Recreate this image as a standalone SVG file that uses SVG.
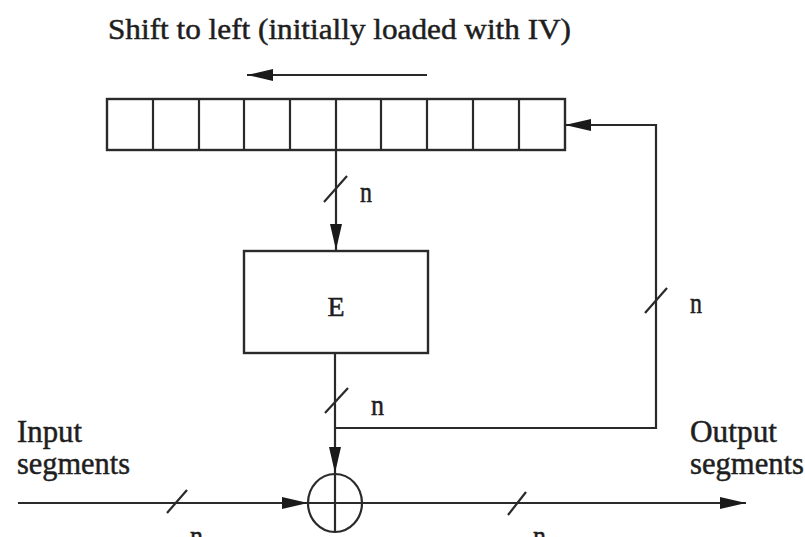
<svg xmlns="http://www.w3.org/2000/svg" width="805" height="537" viewBox="0 0 805 537">
<defs>
<marker id="ah" viewBox="0 0 26 12" refX="26" refY="6" markerWidth="26" markerHeight="12" markerUnits="userSpaceOnUse" orient="auto">
<path d="M0,0 L26,6 L0,12 z" fill="#1a1a1a"/>
</marker>
</defs>
<style>
.ln{stroke:#2a2a2a;stroke-width:2.2;fill:none}
.bx{stroke:#2a2a2a;stroke-width:2.4;fill:#ffffff}
.t{font-family:"Liberation Serif","Times New Roman",serif;fill:#1e1e1e;stroke:#1e1e1e;stroke-width:0.5}
</style>
<rect width="805" height="537" fill="#ffffff"/>

<text class="t" x="108" y="39" font-size="30" textLength="463" lengthAdjust="spacingAndGlyphs">Shift to left (initially loaded with IV)</text>

<g id="shift-arrow">
<line class="ln" x1="427" y1="75" x2="247" y2="75" marker-end="url(#ah)"/>
</g>

<g id="register">
<rect class="bx" x="107" y="99" width="458" height="51"/>
<path class="ln" d="M153,99V150M199,99V150M244,99V150M290,99V150M336,99V150M381,99V150M427,99V150M473,99V150M519,99V150"/>
</g>

<g id="encrypt">
<rect class="bx" x="244" y="251" width="184" height="102"/>
<text class="t" x="336" y="316" font-size="28" text-anchor="middle">E</text>
</g>

<g id="xor">
<ellipse class="ln" cx="335" cy="503" rx="27" ry="29"/>
</g>

<g id="labels">
<text class="t" x="17" y="442" font-size="32" textLength="65" lengthAdjust="spacingAndGlyphs">Input</text>
<text class="t" x="17" y="474" font-size="32" textLength="113" lengthAdjust="spacingAndGlyphs">segments</text>
<text class="t" x="690" y="442" font-size="32" textLength="87" lengthAdjust="spacingAndGlyphs">Output</text>
<text class="t" x="690" y="474" font-size="32" textLength="114" lengthAdjust="spacingAndGlyphs">segments</text>
</g>

<g id="connectors">
<line class="ln" x1="336" y1="150" x2="336" y2="250" marker-end="url(#ah)"/>
<line class="ln" x1="335" y1="353" x2="335" y2="473" marker-end="url(#ah)"/>
<line class="ln" x1="335" y1="473" x2="335" y2="532"/>
<path class="ln" d="M335,428H656V125H593"/>
<line class="ln" x1="600" y1="125" x2="565" y2="125" marker-end="url(#ah)"/>
<line class="ln" x1="18" y1="503" x2="308" y2="503" marker-end="url(#ah)"/>
<line class="ln" x1="308" y1="503" x2="746" y2="503" marker-end="url(#ah)"/>
<g id="slashes">
<line class="ln" x1="324" y1="202" x2="347" y2="176"/>
<line class="ln" x1="325" y1="413" x2="348" y2="388"/>
<line class="ln" x1="645" y1="313" x2="667" y2="288"/>
<line class="ln" x1="167" y1="513" x2="187" y2="490"/>
<line class="ln" x1="508" y1="515" x2="526" y2="492"/>
</g>
<g id="bus-widths">
<text class="t" x="360" y="202" font-size="30" textLength="12" lengthAdjust="spacingAndGlyphs">n</text>
<text class="t" x="371" y="415" font-size="30" textLength="13" lengthAdjust="spacingAndGlyphs">n</text>
<text class="t" x="690" y="313" font-size="30" textLength="12" lengthAdjust="spacingAndGlyphs">n</text>
<text class="t" x="190" y="546" font-size="30" textLength="13" lengthAdjust="spacingAndGlyphs">n</text>
<text class="t" x="533" y="546" font-size="30" textLength="13" lengthAdjust="spacingAndGlyphs">n</text>
</g>
</g>
</svg>
